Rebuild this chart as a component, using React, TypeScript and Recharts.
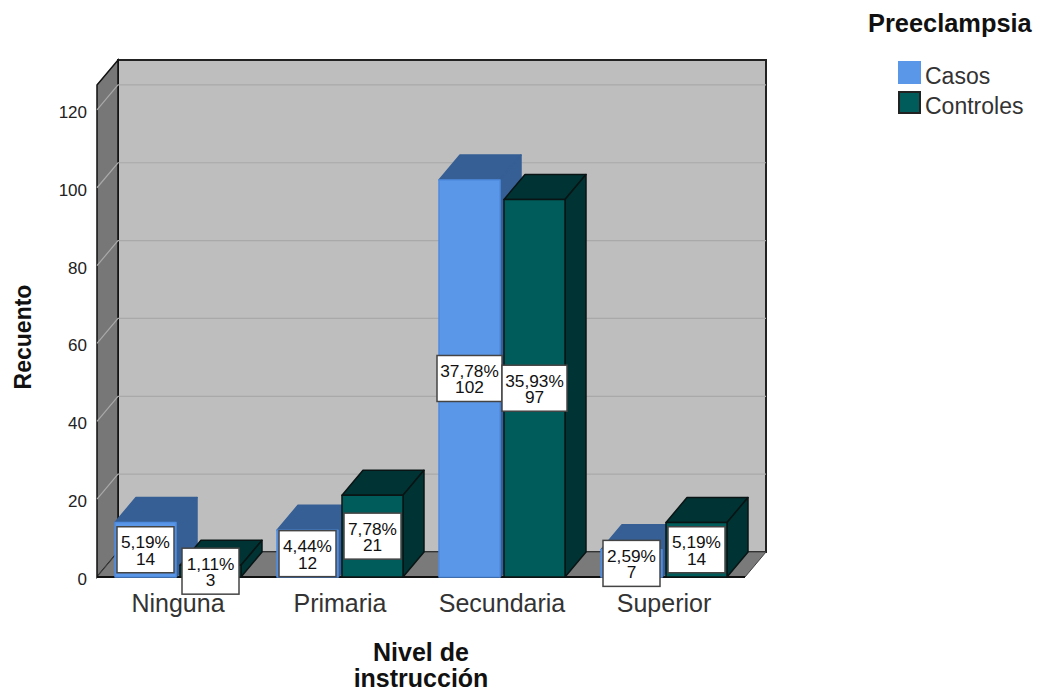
import { BarChart, Bar, XAxis, YAxis, CartesianGrid, LabelList, Legend, usePlotArea } from "recharts";

// ── data ─────────────────────────────────────────────────────────────────────

const categories = ["Ninguna", "Primaria", "Secundaria", "Superior"];
const casos = [14, 12, 102, 7];
const controles = [3, 21, 97, 14];
const casosPct = ["5,19%", "4,44%", "37,78%", "2,59%"];
const controlesPct = ["1,11%", "7,78%", "35,93%", "5,19%"];
const yTicks = [0, 20, 40, 60, 80, 100, 120];
const legendItems = ["Casos", "Controles"];

const chartData = categories.map((name, i) => ({ name, casos: casos[i], controles: controles[i] }));

// ── 3d look ──────────────────────────────────────────────────────────────────

const DX = 21;
const DY = 25;
const FONT = "'Liberation Sans', Arial, sans-serif";

function pts(list: number[][]) {
  return list.map((p) => p.join(",")).join(" ");
}

function Walls() {
  const area = usePlotArea();
  if (!area) return null;
  const { x, y, width, height } = area;
  const r = x + width;
  const b = y + height;
  return (
    <g>
      <rect x={x + DX} y={y - DY} width={width} height={height} fill="#bebebe" stroke="#222" strokeWidth={2} />
      <polygon points={pts([[x, y], [x + DX, y - DY], [x + DX, b - DY], [x, b]])} fill="#777" stroke="#111" strokeWidth={1.5} />
      <polygon points={pts([[x, b], [x + DX, b - DY], [r + DX, b - DY], [r, b]])} fill="#7a7a7a" stroke="#444" strokeWidth={1} />
      <line x1={x} x2={r} y1={b} y2={b} stroke="#111" strokeWidth={2} />
    </g>
  );
}

function GridLine(props: any) {
  const { x1, x2, y1 } = props;
  return (
    <polyline
      points={pts([[x1, y1], [x1 + DX, y1 - DY], [x2 + DX, y1 - DY]])}
      fill="none"
      stroke="#a9a9a9"
      strokeWidth={1.2}
    />
  );
}

function Bar3d(props: any) {
  const { x, y, width, height, front, dark, edge, faceEdge } = props;
  const r = x + width;
  const b = y + height;
  return (
    <g strokeLinejoin="round">
      <polygon points={pts([[x, y], [x + DX, y - DY], [r + DX, y - DY], [r, y]])} fill={dark} stroke={faceEdge} strokeWidth={1.5} />
      <polygon points={pts([[r, y], [r + DX, y - DY], [r + DX, b - DY], [r, b]])} fill={dark} stroke={faceEdge} strokeWidth={1.5} />
      <rect x={x} y={y} width={width} height={height} fill={front} stroke={edge} strokeWidth={1.5} />
    </g>
  );
}

function ValueBox(props: any, pctList: string[]) {
  const { x, y, width, height, index, value } = props;
  const pct = pctList[index];
  const w = pct.length > 5 ? 65 : 57;
  const h = 46;
  const cx = x + width / 2;
  const cy = y + height / 2;
  return (
    <g fontFamily={FONT} fontSize={17.3} fill="#111" textAnchor="middle">
      <rect x={cx - w / 2} y={cy - h / 2} width={w} height={h} fill="#fff" stroke="#444" strokeWidth={1.5} />
      <text x={cx} y={cy - 1.5}>{pct}</text>
      <text x={cx} y={cy + 15}>{value}</text>
    </g>
  );
}

function Titles() {
  return (
    <g fontFamily={FONT} fontWeight="bold" fill="#111" textAnchor="middle">
      <text fontSize={23} transform="translate(31,337) rotate(-90)">Recuento</text>
      <text fontSize={25} x={421} y={661}>Nivel de</text>
      <text fontSize={25} x={421} y={687}>instrucción</text>
    </g>
  );
}

function LegendBox() {
  return (
    <div style={{ fontFamily: FONT, color: "#333" }}>
      <div style={{ position: "absolute", left: 868, top: 9, fontWeight: "bold", fontSize: 25.4, color: "#111", whiteSpace: "nowrap" }}>Preeclampsia</div>
      {legendItems.map((label, i) => (
        <div key={label} style={{ position: "absolute", left: 898, top: 61 + i * 30, whiteSpace: "nowrap", fontSize: 23, lineHeight: "28px" }}>
          <span style={{ position: "absolute", left: 0, top: 0, width: 23, height: 23, boxSizing: "border-box", background: i === 0 ? "#5b97e8" : "#005c5a", border: i === 0 ? "none" : "2px solid #222" }} />
          <span style={{ position: "absolute", left: 27, top: 1 }}>{label}</span>
        </div>
      ))}
    </div>
  );
}

export default function App() {
  return (
    <div style={{ position: "absolute", left: 0, top: 0, width: 1042, height: 692, background: "#fff" }}>
      <BarChart
        width={1042}
        height={692}
        data={chartData}
        margin={{ top: 85, right: 297, bottom: 0, left: 47 }}
        barSize={61}
        barGap={4}
      >
        <CartesianGrid vertical={false} horizontalValues={[0]} horizontal={() => <Walls />} />
        <CartesianGrid vertical={false} horizontalValues={yTicks.slice(1)} horizontal={(p: any) => <GridLine {...p} />} />
        <XAxis
          dataKey="name"
          height={115}
          axisLine={false}
          tickLine={false}
          tickMargin={11}
          interval={0}
          tick={{ fontFamily: FONT, fontSize: 25, fill: "#333" }}
        />
        <YAxis
          type="number"
          width={50}
          domain={[0, 126.4]}
          ticks={yTicks}
          axisLine={false}
          tickLine={false}
          tickMargin={4}
          tick={{ fontFamily: FONT, fontSize: 17, fill: "#222", dy: 2 }}
        />
        <Bar
          dataKey="casos"
          isAnimationActive={false}
          shape={(p: any) => <Bar3d {...p} front="#5b97e8" dark="#365f95" edge="#4f8ce0" faceEdge="#365f95" />}
        >
          <LabelList dataKey="casos" content={(p: any) => ValueBox(p, casosPct)} />
        </Bar>
        <Bar
          dataKey="controles"
          isAnimationActive={false}
          shape={(p: any) => <Bar3d {...p} front="#005c5a" dark="#003333" edge="#0a1414" faceEdge="#0a1414" />}
        >
          <LabelList dataKey="controles" content={(p: any) => ValueBox(p, controlesPct)} />
        </Bar>
        <Legend content={() => <LegendBox />} wrapperStyle={{ position: "absolute", left: 0, top: 0, width: 0, height: 0 }} />
        <Titles />
      </BarChart>
    </div>
  );
}
